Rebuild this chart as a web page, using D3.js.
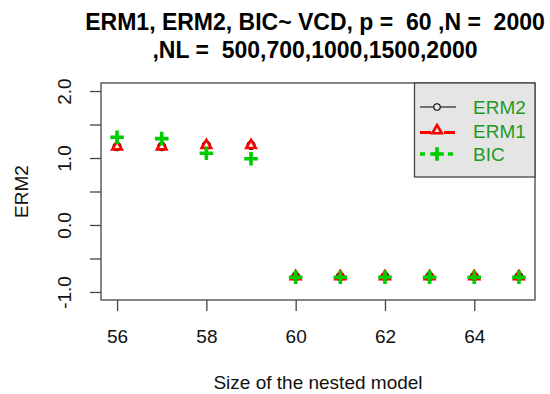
<!DOCTYPE html>
<html>
<head>
<meta charset="utf-8">
<script src="https://cdn.jsdelivr.net/npm/d3@7"></script>
<style>
  html, body { margin: 0; padding: 0; background: #fff; }
  svg { display: block; font-family: "Liberation Sans", Arial, sans-serif; }
  svg text { white-space: pre; }
</style>
</head>
<body>
<svg id="chart" width="550" height="394"></svg>
<script>
// ---- data ----
const sizes = [56, 57, 58, 59, 60, 61, 62, 63, 64, 65];
const erm2 = [1.17, 1.17, 1.19, 1.19, -0.77, -0.77, -0.77, -0.77, -0.77, -0.77];
const erm1 = [1.17, 1.17, 1.19, 1.19, -0.77, -0.77, -0.77, -0.77, -0.77, -0.77];
const bic  = [1.31, 1.29, 1.07, 0.99, -0.78, -0.78, -0.78, -0.78, -0.78, -0.78];
const xTicks = [56, 58, 60, 62, 64];
const yTicks = [-1, -0.5, 0, 0.5, 1, 1.5, 2];
const yLabelTicks = [-1, 0, 1, 2];
const legendNames = ["ERM2", "ERM1", "BIC"];
const titleLines = ["ERM1, ERM2, BIC~ VCD, p =  60 ,N =  2000", ",NL =  500,700,1000,1500,2000"];
const xTitle = "Size of the nested model";
const yTitle = "ERM2";

// ---- layout ----
const plot = {left: 101, right: 535, top: 83, bottom: 300};
const svg = d3.select("#chart");
const axisColor = "#444";

const x = d3.scaleLinear().domain([55.64, 65.36]).range([plot.left, plot.right]);
const y = d3.scaleLinear().domain([-1.12, 2.12]).range([plot.bottom, plot.top]);

// title
svg.append("g").selectAll("text").data(titleLines).join("text")
  .attr("x", (plot.left + plot.right) / 2 - 3)
  .attr("y", (d, i) => 30 + i * 28)
  .attr("text-anchor", "middle")
  .attr("xml:space", "preserve")
  .attr("font-size", 23).attr("font-weight", "bold").attr("fill", "#000")
  .text(d => d);

// x axis
const xa = svg.append("g").attr("transform", `translate(0,${plot.bottom})`)
  .call(d3.axisBottom(x).tickValues(xTicks).tickSize(11).tickFormat(d3.format("d")));
xa.select(".domain").remove();
xa.selectAll("line").attr("stroke", axisColor).attr("stroke-width", 1.3);
xa.selectAll("text").attr("y", 43).attr("dy", null)
  .attr("font-size", 19).attr("fill", "#111").attr("font-family", "Liberation Sans, Arial, sans-serif");

// y axis
const fmt = v => yLabelTicks.includes(v) ? d3.format(".1f")(v).replace("\u2212", "-") : "";
const ya = svg.append("g").attr("transform", `translate(${plot.left},0)`)
  .call(d3.axisLeft(y).tickValues(yTicks).tickSize(11).tickFormat(fmt));
ya.select(".domain").remove();
ya.selectAll("line").attr("stroke", axisColor).attr("stroke-width", 1.3);
ya.selectAll("text")
  .attr("x", 0).attr("y", -30).attr("dy", null)
  .attr("transform", "rotate(-90)")
  .attr("text-anchor", "middle")
  .attr("font-size", 19).attr("fill", "#111").attr("font-family", "Liberation Sans, Arial, sans-serif");

// plot frame
svg.append("rect")
  .attr("x", plot.left).attr("y", plot.top)
  .attr("width", plot.right - plot.left).attr("height", plot.bottom - plot.top)
  .attr("fill", "none").attr("stroke", axisColor).attr("stroke-width", 1.3);

// axis titles
svg.append("text").attr("x", (plot.left + plot.right) / 2).attr("y", 389)
  .attr("text-anchor", "middle").attr("font-size", 19).attr("fill", "#111").text(xTitle);
svg.append("text")
  .attr("transform", `translate(28,${(plot.top + plot.bottom) / 2}) rotate(-90)`)
  .attr("text-anchor", "middle").attr("font-size", 19).attr("fill", "#111").text(yTitle);

// symbol helpers
const triR = 5.5;
const triPath = (cx, cy) => {
  const hw = triR * Math.sqrt(3) / 2;
  return `M${cx},${cy - triR}L${cx + hw},${cy + triR / 2}L${cx - hw},${cy + triR / 2}Z`;
};
const plusArm = 6.8;
const plusPath = (cx, cy) => `M${cx - plusArm},${cy}H${cx + plusArm}M${cx},${cy - plusArm}V${cy + plusArm}`;

const red = "#ff0000", green = "#00cd00";

// ERM2 circles
svg.append("g").selectAll("circle").data(sizes.map((s, i) => [s, erm2[i]])).join("circle")
  .attr("cx", d => x(d[0])).attr("cy", d => y(d[1])).attr("r", 4)
  .attr("fill", "none").attr("stroke", "#000").attr("stroke-width", 1.2);
// ERM1 triangles
svg.append("g").selectAll("path").data(sizes.map((s, i) => [s, erm1[i]])).join("path")
  .attr("d", d => triPath(x(d[0]), y(d[1])))
  .attr("fill", "none").attr("stroke", red).attr("stroke-width", 2.6).attr("stroke-linejoin", "miter");
// BIC pluses
svg.append("g").selectAll("path").data(sizes.map((s, i) => [s, bic[i]])).join("path")
  .attr("d", d => plusPath(x(d[0]), y(d[1])))
  .attr("fill", "none").attr("stroke", green).attr("stroke-width", 3.6);

// legend
const lg = svg.append("g");
lg.append("rect").attr("x", 414.5).attr("y", plot.top).attr("width", plot.right - 414.5).attr("height", 94)
  .attr("fill", "#e5e5e5").attr("stroke", axisColor).attr("stroke-width", 1.3);
const rowY = [107, 130.5, 154];
const lx0 = 420, lx1 = 456, lsx = 437;
// ERM2 row
lg.append("line").attr("x1", lx0).attr("x2", lx1).attr("y1", rowY[0]).attr("y2", rowY[0])
  .attr("stroke", "#000").attr("stroke-width", 1.1);
lg.append("circle").attr("cx", lsx).attr("cy", rowY[0]).attr("r", 3.2)
  .attr("fill", "#e5e5e5").attr("stroke", "#000").attr("stroke-width", 1.1);
// ERM1 row
lg.append("line").attr("x1", lx0).attr("x2", lx1).attr("y1", rowY[1] + 2).attr("y2", rowY[1] + 2)
  .attr("stroke", red).attr("stroke-width", 3).attr("stroke-dasharray", "11,13");
lg.append("path").attr("d", triPath(lsx, rowY[1]))
  .attr("fill", "none").attr("stroke", red).attr("stroke-width", 2.6);
// BIC row
lg.append("line").attr("x1", lx0).attr("x2", lx1).attr("y1", rowY[2]).attr("y2", rowY[2])
  .attr("stroke", green).attr("stroke-width", 3.6).attr("stroke-dasharray", "5,9");
lg.append("path").attr("d", plusPath(lsx, rowY[2]))
  .attr("fill", "none").attr("stroke", green).attr("stroke-width", 3.6);
// texts
lg.selectAll("text.lt").data(legendNames).join("text").attr("class", "lt")
  .attr("x", 473).attr("y", (d, i) => rowY[i] + 7)
  .attr("font-size", 19).attr("fill", "#1f9a1f").text(d => d);
</script>
</body>
</html>
